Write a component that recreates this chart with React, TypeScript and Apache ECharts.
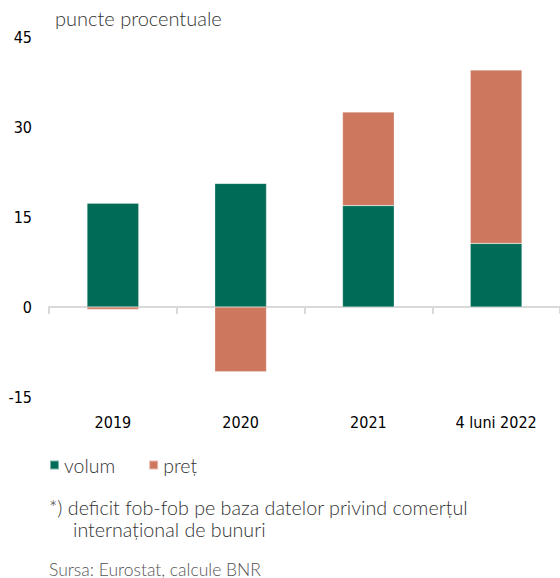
import React, { useEffect, useRef } from "react";
import * as echarts from "echarts";

const categories = ["2019", "2020", "2021", "4 luni 2022"];
const volum = [17.3, 20.6, 16.9, 10.6];
const pret = [-0.4, -10.8, 15.6, 28.9];
const yTicks = { min: -15, max: 45, interval: 15 };

const labelFont = '"Liberation Sans Narrow", "DejaVu Sans Condensed", "Roboto", sans-serif';
const textFont = 'Lato, "Open Sans", sans-serif';

export default function App() {
  const ref = useRef<HTMLDivElement>(null);
  useEffect(() => {
    if (!ref.current) return;
    const chart = echarts.init(ref.current, undefined, { renderer: "svg" });
    chart.setOption({
      animation: false,
      backgroundColor: "#ffffff",
      grid: { left: 49, right: 0, top: 37, bottom: 181, containLabel: false },
      legend: {
        left: 44,
        top: 450,
        icon: "rect",
        itemWidth: 9,
        itemHeight: 9,
        itemGap: 33,
        textStyle: { fontFamily: textFont, fontSize: 19.5, color: "#333333", fontWeight: 300 },
        data: ["volum", "preț"],
      },
      xAxis: [
        {
          type: "category",
          data: categories,
          axisLine: { onZero: true, lineStyle: { color: "#d9d9d9", width: 2 } },
          axisTick: { show: true, length: 7, lineStyle: { color: "#d9d9d9", width: 2 } },
          axisLabel: { show: false },
        },
        {
          type: "category",
          data: categories,
          position: "bottom",
          axisLine: { show: false, onZero: false },
          axisTick: { show: false },
          axisLabel: {
            show: true,
            margin: 17,
            fontFamily: labelFont,
            fontSize: 16,
            color: "#000000",
          },
        },
      ],
      yAxis: {
        type: "value",
        min: yTicks.min,
        max: yTicks.max,
        interval: yTicks.interval,
        axisLine: { show: false },
        axisTick: { show: false },
        splitLine: { show: false },
        axisLabel: {
          margin: 17,
          fontFamily: labelFont,
          fontSize: 16,
          color: "#000000",
        },
      },
      series: [
        {
          name: "volum",
          type: "bar",
          stack: "total",
          xAxisIndex: 0,
          barWidth: "40.5%",
          data: volum,
          itemStyle: { color: "#006b56", borderColor: "rgba(255,255,255,0.5)", borderWidth: 0.5 },
        },
        {
          name: "preț",
          type: "bar",
          stack: "total",
          xAxisIndex: 0,
          barWidth: "40.5%",
          data: pret,
          itemStyle: { color: "#cc775e", borderColor: "rgba(255,255,255,0.5)", borderWidth: 0.5 },
        },
      ],
      graphic: [
        {
          type: "text",
          left: 55,
          top: 8,
          style: { text: "puncte procentuale", fontFamily: textFont, fontSize: 20, fill: "#333333", fontWeight: 300 },
        },
        {
          type: "text",
          left: 49,
          top: 497,
          style: {
            text: "*) deficit fob-fob pe baza datelor privind comerțul",
            fontFamily: textFont,
            fontSize: 19.7,
            fill: "#333333",
            fontWeight: 300,
          },
        },
        {
          type: "text",
          left: 73,
          top: 519,
          style: { text: "internațional de bunuri", fontFamily: textFont, fontSize: 19.7, fill: "#333333", fontWeight: 300 },
        },
        {
          type: "text",
          left: 49,
          top: 560,
          style: { text: "Sursa: Eurostat, calcule BNR", fontFamily: textFont, fontSize: 17.5, fill: "#555555", fontWeight: 300 },
        },
      ],
    });
    return () => chart.dispose();
  }, []);
  return (
    <div
      ref={ref}
      style={{ position: "fixed", left: 0, top: 0, width: 560, height: 578 }}
    />
  );
}
